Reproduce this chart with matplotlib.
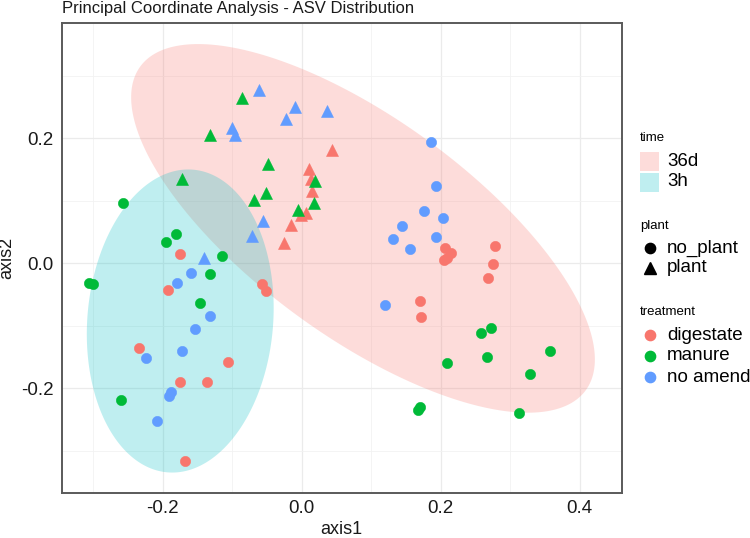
import numpy as np
import matplotlib
matplotlib.use("Agg")
import matplotlib.pyplot as plt
from matplotlib.patches import Polygon, Rectangle
from matplotlib.lines import Line2D

plt.rcParams['font.family'] = ['Liberation Sans', 'DejaVu Sans']

# ---------------- data ----------------
treatments = ["digestate", "manure", "no amend"]
treat_colors = {"digestate": "#F8766D", "manure": "#00BA38", "no amend": "#619CFF"}
plants = ["no_plant", "plant"]
plant_markers = {"no_plant": "o", "plant": "^"}
times = ["36d", "3h"]
time_colors = {"36d": "#F8766D", "3h": "#00BFC4"}

# plant samples (triangles)
plant_dig_x = [0.043, 0.0105, 0.013, 0.015, -0.001, 0.006, -0.016, -0.025]
plant_dig_y = [0.181, 0.150, 0.135, 0.115, 0.077, 0.0795, 0.061, 0.0325]
plant_man_x = [-0.086, -0.132, -0.048, -0.172, 0.019, -0.051, -0.068, 0.018, -0.005]
plant_man_y = [0.264, 0.205, 0.158, 0.134, 0.131, 0.1125, 0.101, 0.0955, 0.085]
plant_noa_x = [-0.062, -0.009, -0.023, 0.036, -0.100, -0.096, -0.056, -0.072, -0.140]
plant_noa_y = [0.277, 0.249, 0.230, 0.243, 0.2165, 0.205, 0.068, 0.044, 0.0075]

# no_plant samples (circles)
noplant_dig_x = [-0.175, -0.193, -0.0566, -0.052, -0.234, -0.106, -0.175, -0.1367, -0.168,
                 0.207, 0.2154, 0.2048, 0.2086, 0.2777, 0.2753, 0.2686, 0.171, 0.172]
noplant_dig_y = [0.014, -0.043, -0.034, -0.045, -0.1365, -0.158, -0.191, -0.190, -0.317,
                 0.0235, 0.0155, 0.0048, 0.0075, 0.027, -0.002, -0.0245, -0.0603, -0.086]
noplant_man_x = [-0.2567, -0.181, -0.195, -0.115, -0.132, -0.306, -0.301, -0.146, -0.260,
                 0.2576, 0.2724, 0.358, 0.267, 0.2096, 0.328, 0.170, 0.167, 0.3127]
noplant_man_y = [0.0965, 0.046, 0.034, 0.011, -0.0176, -0.0325, -0.034, -0.0645, -0.219,
                 -0.1125, -0.1045, -0.140, -0.150, -0.1605, -0.1776, -0.231, -0.235, -0.2395]
noplant_noa_x = [-0.159, -0.180, -0.132, -0.1535, -0.2245, -0.1717, -0.1885, -0.191, -0.2077,
                 0.1856, 0.193, 0.176, 0.203, 0.145, 0.1314, 0.194, 0.1554, 0.1194]
noplant_noa_y = [-0.0155, -0.0325, -0.085, -0.106, -0.1525, -0.140, -0.206, -0.213, -0.252,
                 0.194, 0.124, 0.084, 0.0725, 0.059, 0.038, 0.041, 0.0224, -0.0677]

# confidence ellipses per time group: centre, covariance-like shape matrix
ell_36d_center = [0.0883, 0.0554]
ell_36d_shape = [[0.1114, -0.06998], [-0.06998, 0.08697]]
ell_3h_center = [-0.1748, -0.0928]
ell_3h_shape = [[0.01809, 0.0028], [0.0028, 0.0588]]

x_ticks = [-0.2, 0.0, 0.2, 0.4]
y_ticks = [-0.2, 0.0, 0.2]

# ---------------- figure ----------------
W, H = 750, 538
fig = plt.figure(figsize=(W / 100, H / 100), dpi=100)

def fx(px):
    return px / W

def fy(py):
    return 1 - py / H

L_, R_, T_, B_ = 62, 621.5, 22.7, 493
ax = fig.add_axes([fx(L_), fy(B_), fx(R_) - fx(L_), fy(T_) - fy(B_)])
ax.set_xlim(-0.345, 0.4604)
ax.set_ylim(-0.368, 0.3845)

ax.set_xticks(x_ticks)
ax.set_xticklabels([f"{v:.1f}" for v in x_ticks])
ax.set_yticks(y_ticks)
ax.set_yticklabels([f"{v:.1f}" for v in y_ticks])
ax.set_xticks([-0.3, -0.1, 0.1, 0.3], minor=True)
ax.set_yticks([-0.3, -0.1, 0.1, 0.3], minor=True)
ax.grid(True, which='major', color='#EBEBEB', lw=0.9)
ax.grid(True, which='minor', color='#F2F2F2', lw=0.6)
ax.set_axisbelow(True)
ax.tick_params(which='both', length=0)
ax.tick_params(axis='x', labelsize=13.5, pad=5, labelcolor='#1A1A1A')
ax.tick_params(axis='y', labelsize=13.5, pad=6, labelcolor='#1A1A1A')
for s in ax.spines.values():
    s.set_color('#5A5A5A')
    s.set_linewidth(1.4)

ax.set_xlabel("axis1", fontsize=13, labelpad=3, color='#1A1A1A')
ax.set_ylabel("axis2", fontsize=13, labelpad=4, color='#1A1A1A')

# ellipses
t = np.linspace(0, 2 * np.pi, 300)
for c, m, col in [(ell_36d_center, ell_36d_shape, time_colors["36d"]),
                  (ell_3h_center, ell_3h_shape, time_colors["3h"])]:
    Lc = np.linalg.cholesky(np.array(m))
    pts = np.array(c)[:, None] + Lc @ np.vstack([np.cos(t), np.sin(t)])
    ax.add_patch(Polygon(pts.T, closed=True, facecolor=col, alpha=0.25,
                         edgecolor='none', zorder=1))

# points
groups = [
    (noplant_dig_x, noplant_dig_y, "digestate", "no_plant"),
    (noplant_man_x, noplant_man_y, "manure", "no_plant"),
    (noplant_noa_x, noplant_noa_y, "no amend", "no_plant"),
    (plant_dig_x, plant_dig_y, "digestate", "plant"),
    (plant_man_x, plant_man_y, "manure", "plant"),
    (plant_noa_x, plant_noa_y, "no amend", "plant"),
]
for xs, ys, tr, pl in groups:
    mk = plant_markers[pl]
    ax.plot(xs, ys, linestyle='none', marker=mk,
            markersize=7.4 if mk == 'o' else 9.0,
            markerfacecolor=treat_colors[tr], markeredgecolor=treat_colors[tr],
            markeredgewidth=0.4, zorder=3)

# title
fig.text(fx(62), fy(13), "Principal Coordinate Analysis - ASV Distribution",
         fontsize=12, ha='left', va='baseline', color='#1A1A1A')

# legends (manual, ggplot-like)
key_x0, key_w = 640, 19
text_x = 667
fig.text(fx(640), fy(138), "time", fontsize=9.5, ha='left', va='center')
for i, tm in enumerate(times):
    yc = 162 + 20 * i
    fig.add_artist(Rectangle((fx(key_x0), fy(yc + 9.5)), key_w / W, 19 / H,
                             transform=fig.transFigure, facecolor=time_colors[tm],
                             alpha=0.25, edgecolor='none'))
    fig.text(fx(text_x), fy(yc), tm, fontsize=13.5, ha='left', va='center')

fig.text(fx(640), fy(226), "plant", fontsize=9.5, ha='left', va='center')
for i, pl in enumerate(plants):
    yc = 248 + 20 * i
    fig.add_artist(Line2D([fx(649.5)], [fy(yc)], transform=fig.transFigure,
                          marker=plant_markers[pl], color='black', linestyle='none',
                          markersize=7.4 if pl == 'no_plant' else 9.0))
    fig.text(fx(text_x), fy(yc), pl, fontsize=13.5, ha='left', va='center')

fig.text(fx(640), fy(312), "treatment", fontsize=9.5, ha='left', va='center')
for i, tr in enumerate(treatments):
    yc = 335 + 21 * i
    fig.add_artist(Line2D([fx(649.5)], [fy(yc)], transform=fig.transFigure,
                          marker='o', color=treat_colors[tr], linestyle='none',
                          markersize=7.4))
    fig.text(fx(text_x), fy(yc), tr, fontsize=13.5, ha='left', va='center')

fig.savefig("out.png", dpi=100)
